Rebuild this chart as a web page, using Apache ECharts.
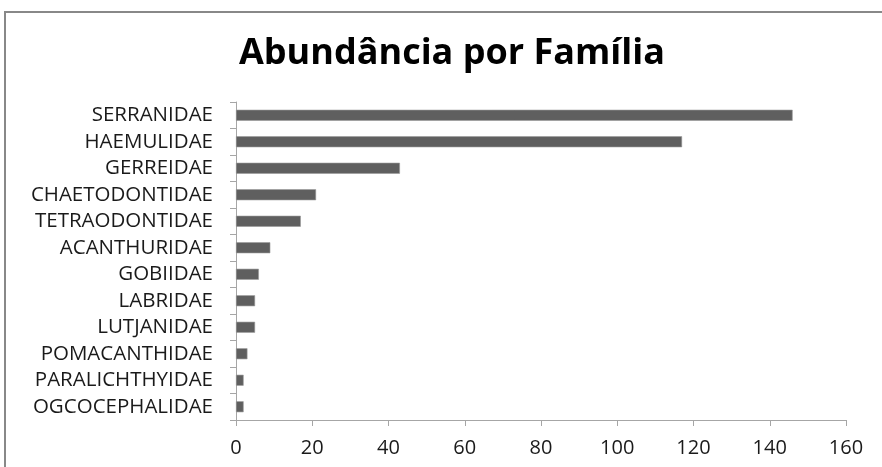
<!DOCTYPE html>
<html>
<head>
<meta charset="utf-8">
<script src="https://cdn.jsdelivr.net/npm/echarts@6/dist/echarts.min.js"></script>
<style>
  html, body { margin: 0; padding: 0; background: #fff; }
  #chart { width: 882px; height: 467px; }
</style>
</head>
<body>
<div id="chart"></div>
<script>
// Fish families and their counted abundance
const families = [
  'SERRANIDAE', 'HAEMULIDAE', 'GERREIDAE', 'CHAETODONTIDAE', 'TETRAODONTIDAE',
  'ACANTHURIDAE', 'GOBIIDAE', 'LABRIDAE', 'LUTJANIDAE', 'POMACANTHIDAE',
  'PARALICHTHYIDAE', 'OGCOCEPHALIDAE'
];
const abundance = [146, 117, 43, 21, 17, 9, 6, 5, 5, 3, 2, 2];
const xTicks = { min: 0, max: 160, interval: 20 };

const chart = echarts.init(document.getElementById('chart'));
chart.setOption({
  animation: false,
  backgroundColor: '#ffffff',
  textStyle: { fontFamily: 'Open Sans' },
  graphic: [{
    type: 'rect',
    shape: { x: 5, y: 12, width: 900, height: 520 },
    style: { fill: 'none', stroke: '#888888', lineWidth: 2 },
    silent: true
  }],
  title: {
    text: 'Abundância por Família',
    left: 234,
    top: 31,
    textStyle: { fontFamily: 'Open Sans', fontWeight: 'bold', fontSize: 36, color: '#000000' }
  },
  grid: { left: 236, right: 36, top: 102, bottom: 47, containLabel: false },
  xAxis: {
    type: 'value',
    min: xTicks.min,
    max: xTicks.max,
    interval: xTicks.interval,
    axisLine: { show: true, lineStyle: { color: '#a6a6a6', width: 1 } },
    axisTick: { show: true, length: 6, lineStyle: { color: '#a6a6a6' } },
    axisLabel: { fontSize: 20, color: '#1a1a1a', margin: 18, fontFamily: 'Open Sans' },
    splitLine: { show: false }
  },
  yAxis: {
    type: 'category',
    data: families,
    inverse: true,
    axisLine: { show: true, lineStyle: { color: '#a6a6a6', width: 1 } },
    axisTick: { show: true, length: 6, lineStyle: { color: '#a6a6a6' } },
    axisLabel: { interval: 0, fontSize: 20.5, color: '#1a1a1a', margin: 23, fontFamily: 'Open Sans' }
  },
  series: [{
    type: 'bar',
    data: abundance,
    barWidth: 11,
    itemStyle: { color: '#5f5f5f', borderColor: '#9a9a9a', borderWidth: 0.6 }
  }]
});
</script>
</body>
</html>
